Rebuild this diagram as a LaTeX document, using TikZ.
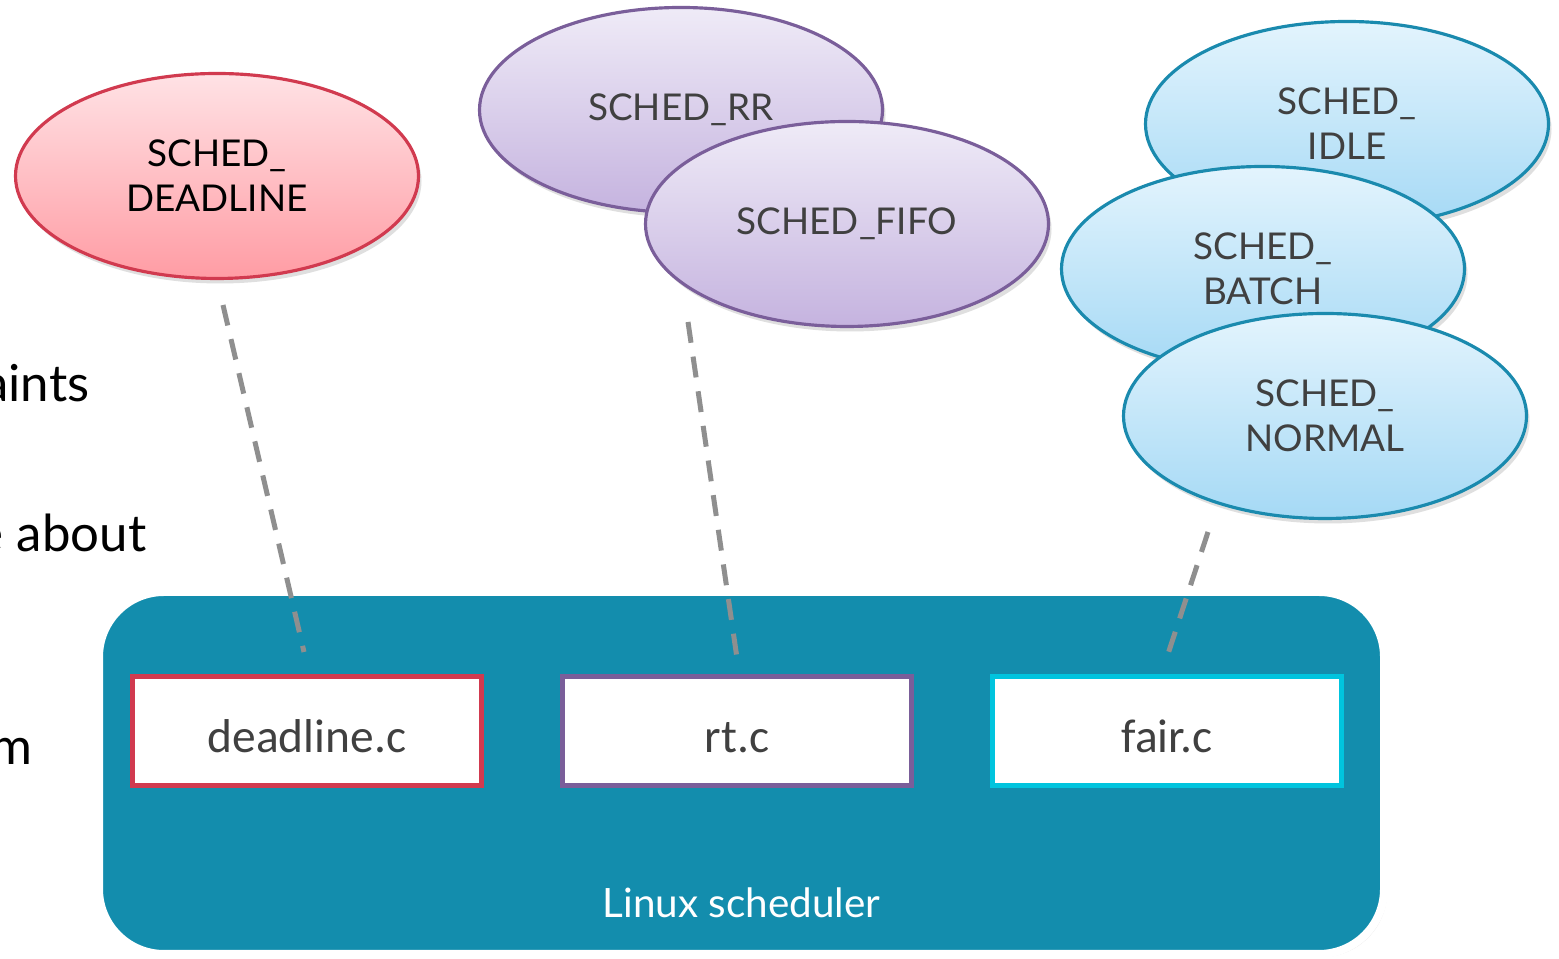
\documentclass[tikz,border=0pt]{standalone}
\usepackage{fontspec}
\setmainfont{Lato}
\newfontfamily\srcfont{Carlito}
\usetikzlibrary{positioning,shapes.geometric,shadows}

\definecolor{dlred}{HTML}{D13A4F}
\definecolor{dltop}{HTML}{FFE2E5}
\definecolor{dlbot}{HTML}{FF9CA4}
\definecolor{rtpurple}{HTML}{7A5E9A}
\definecolor{rttop}{HTML}{EFEBF7}
\definecolor{rtbot}{HTML}{C5B3DF}
\definecolor{fairblue}{HTML}{1A8AAE}
\definecolor{fairtop}{HTML}{E3F4FD}
\definecolor{fairbot}{HTML}{A5D9F5}
\definecolor{faircyan}{HTML}{00C4DE}
\definecolor{schedteal}{HTML}{138DAD}
\definecolor{linkgray}{HTML}{8F8F8F}
\definecolor{textgray}{HTML}{404040}

\begin{document}
\begin{tikzpicture}[>=stealth,
  policy/.style={ellipse, draw, line width=0.9pt, inner sep=0pt,
    minimum width=4.03cm, minimum height=2.05cm, align=center,
    font=\fontsize{10.5}{12.8}\selectfont, text=textgray,
    drop shadow={opacity=0.25, shadow xshift=0.03cm, shadow yshift=-0.05cm}},
  srcbox/.style={rectangle, draw, fill=white, line width=0.05cm,
    minimum width=3.49cm, minimum height=1.09cm, text height=12pt, text depth=0pt,
    font=\srcfont\fontsize{13.5}{16}\selectfont, text=textgray},
  slidetext/.style={anchor=base east, inner sep=0pt, font=\fontsize{14.5}{17}\selectfont},
  link/.style={draw=linkgray, line width=0.05cm, dash pattern=on 0.21cm off 0.14cm}]
  % the page, with its margins
  \fill[white] (0,0) rectangle (15.59,9.59);
  \useasboundingbox (0,0) rectangle (15.59,9.59);

  % what is left of the slide text on the left
  \node[slidetext] (txtA) at (0.90,5.57) {aints};
  \node[slidetext] (txtB) at (1.47,4.07) {e about};
  \node[slidetext] (txtC) at (0.33,1.94) {m};

  % The scheduler block
  \node[draw=white, line width=0.08cm, fill=schedteal, rounded corners=0.65cm,
    minimum width=12.85cm, minimum height=3.62cm,
    drop shadow={opacity=0.2, shadow xshift=0.03cm, shadow yshift=-0.03cm}] (sched) at (7.415,1.86) {};
  \node[anchor=base, text=white, font=\fontsize{11.5}{14}\selectfont] (schedlbl) at (7.415,0.41) {Linux scheduler};

  % Source files
  \node[srcbox, draw=dlred] (dlsrc) at (3.07,2.28) {deadline.c};
  \node[srcbox, draw=rtpurple, right=0.76cm of dlsrc] (rtsrc) {rt.c};
  \node[srcbox, draw=faircyan, right=0.76cm of rtsrc] (fairsrc) {fair.c};

  % Policies
  \node[policy, draw=dlred, top color=dltop, bottom color=dlbot, text=black] (dl) at (2.17,7.83) {SCHED\_\\DEADLINE};
  \node[policy, draw=rtpurple, top color=rttop, bottom color=rtbot] (rr) at (6.81,8.49) {SCHED\_RR};
  \node[policy, draw=rtpurple, top color=rttop, bottom color=rtbot] (fifo) at (8.47,7.35) {SCHED\_FIFO};
  \node[policy, draw=fairblue, top color=fairtop, bottom color=fairbot] (idle) at (13.47,8.35) {SCHED\_\\IDLE};
  \node[policy, draw=fairblue, top color=fairtop, bottom color=fairbot] (batch) at (12.63,6.90) {SCHED\_\\BATCH};
  \node[policy, draw=fairblue, top color=fairtop, bottom color=fairbot] (normal) at (13.25,5.43) {SCHED\_\\NORMAL};

  % dashed links, policy to file
  \coordinate (dlA) at (2.23,6.54);
  \coordinate (dlB) at (3.04,3.07);
  \coordinate (rtA) at (6.88,6.37);
  \coordinate (rtB) at (7.38,2.94);
  \coordinate (fairA) at (12.08,4.27);
  \coordinate (fairB) at (11.67,3.02);
  \draw[link] (dlA) -- (dlB);
  \draw[link] (rtA) -- (rtB);
  \draw[link] (fairA) -- (fairB);
\end{tikzpicture}
\end{document}
